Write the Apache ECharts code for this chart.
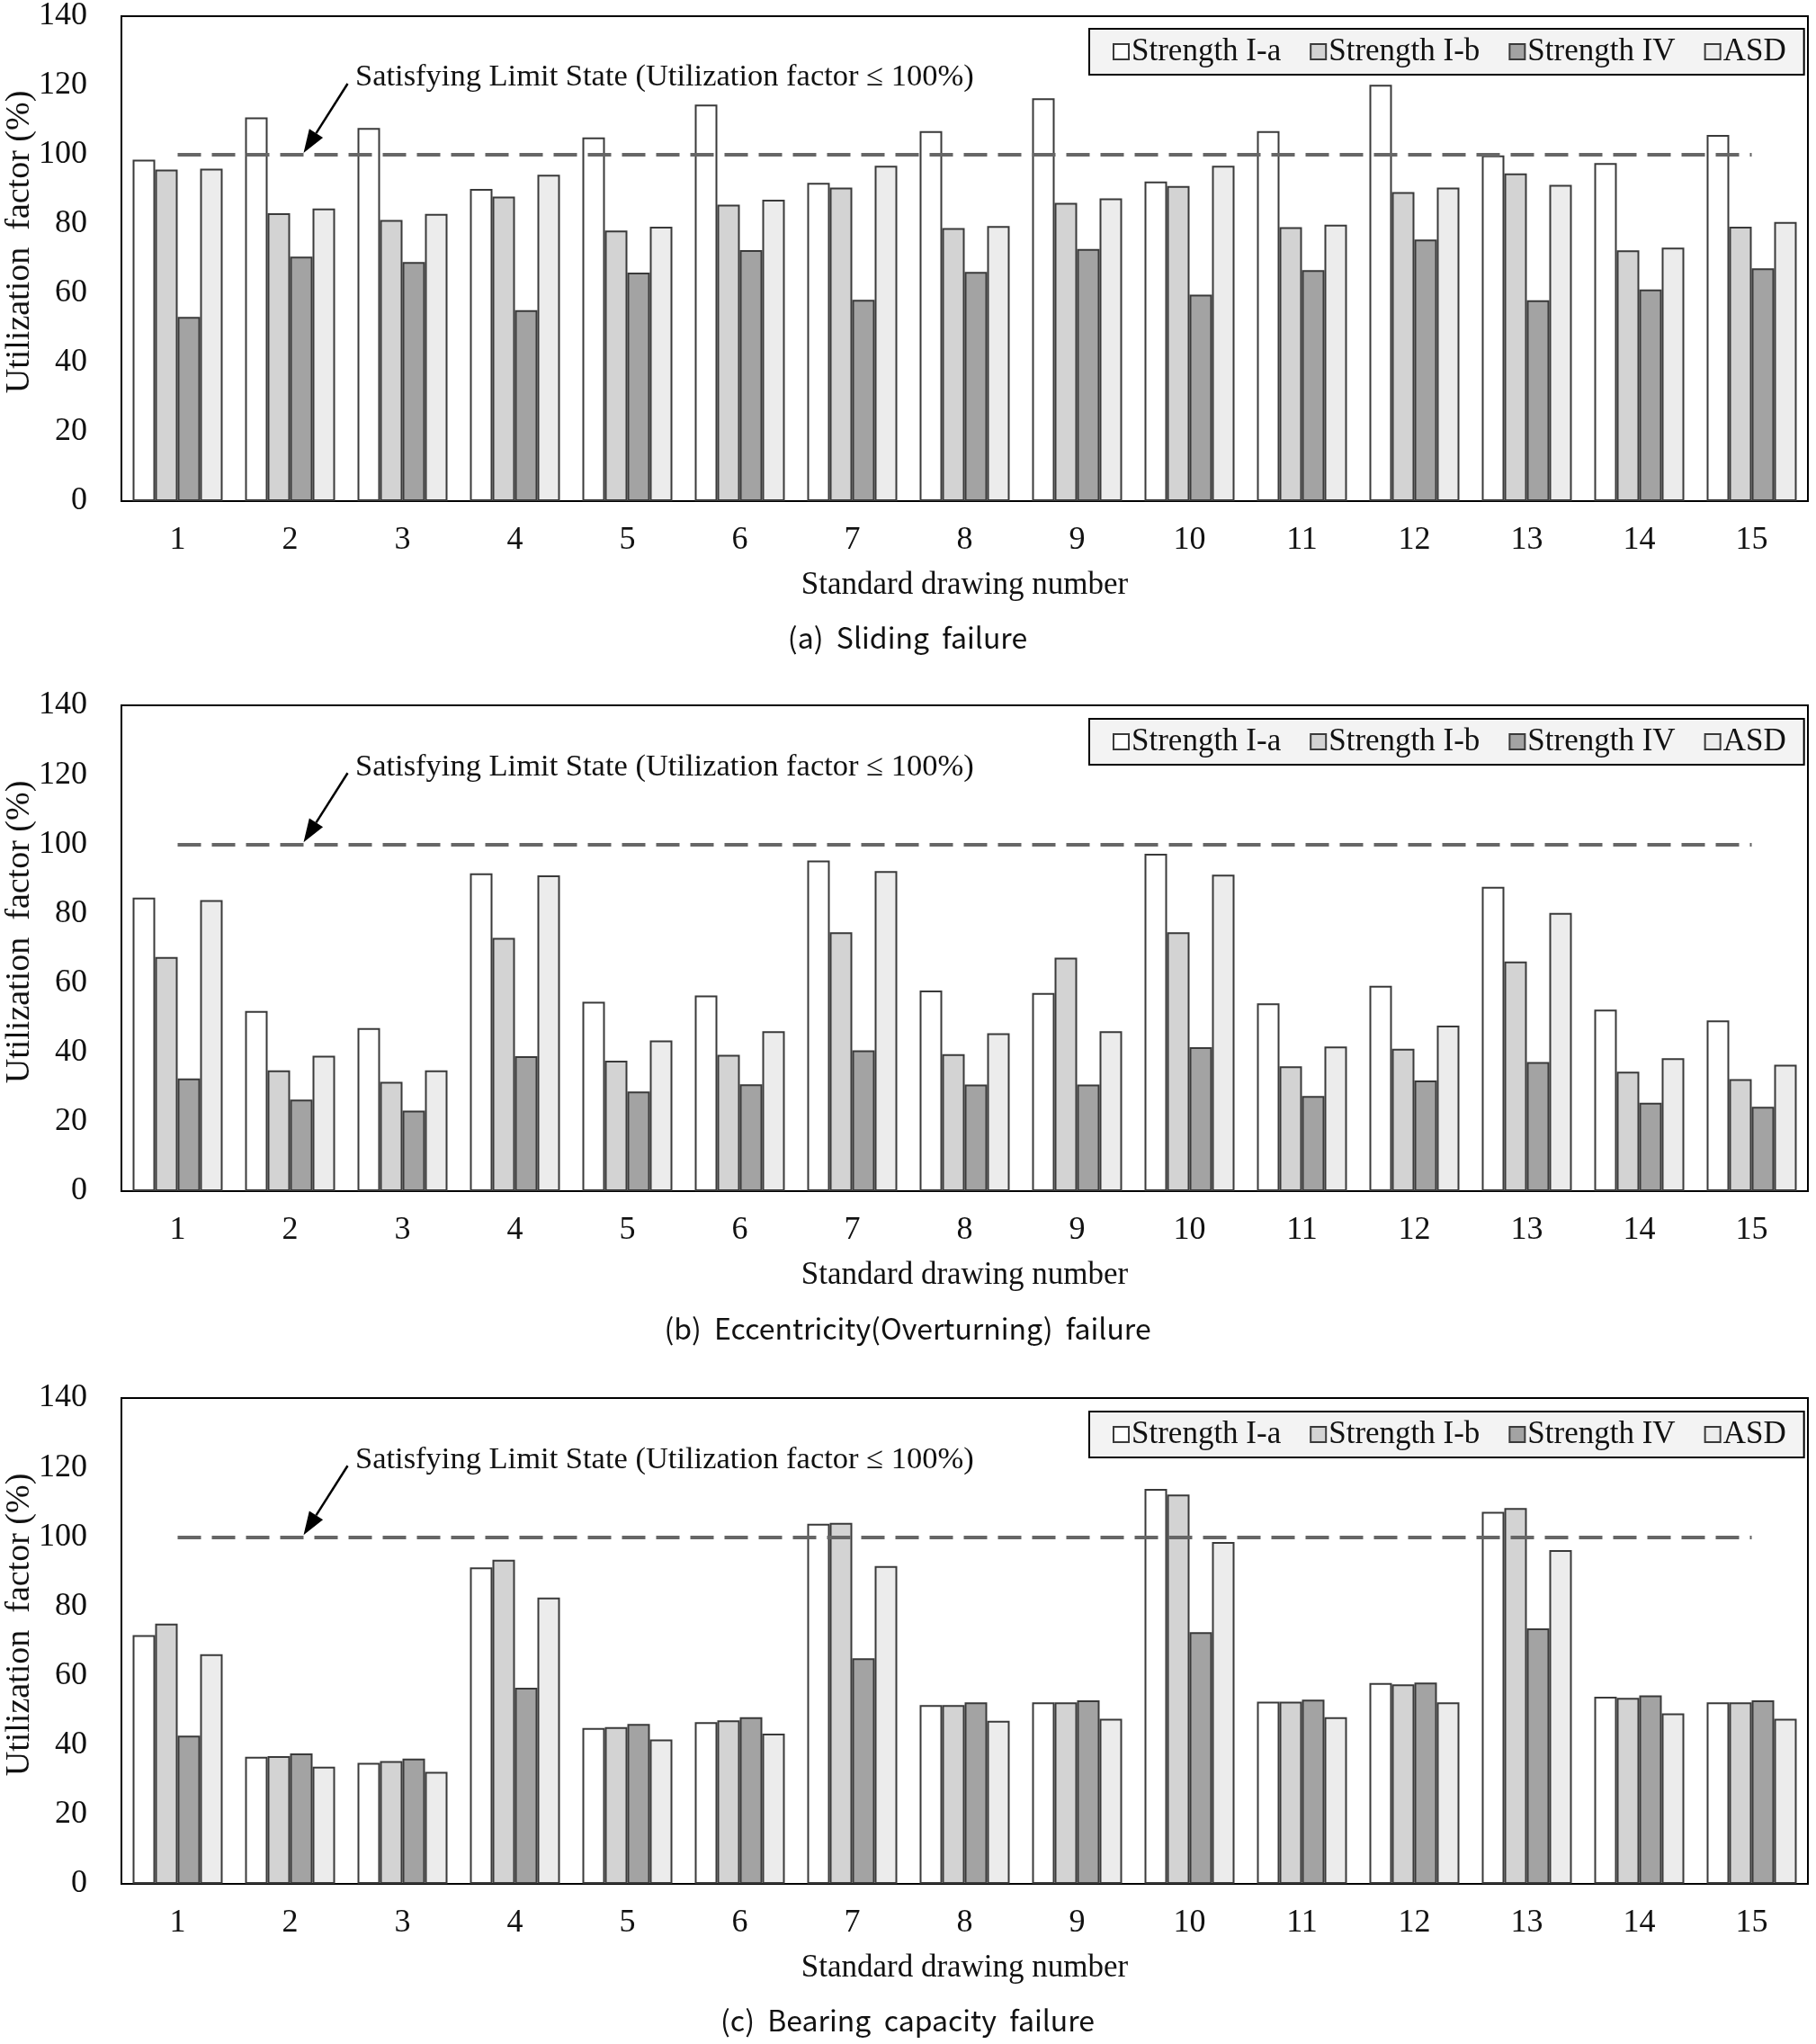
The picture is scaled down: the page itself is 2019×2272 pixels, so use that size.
<!DOCTYPE html>
<html>
<head>
<meta charset="utf-8">
<script src="https://cdn.jsdelivr.net/npm/echarts@6/dist/echarts.min.js"></script>
<style>
html,body{margin:0;padding:0;background:#fff;}
#chart{width:2019px;height:2272px;}
</style>
</head>
<body>
<div id="chart"></div>
<script>
const categories = ['1','2','3','4','5','6','7','8','9','10','11','12','13','14','15'];
const seriesNames = ['Strength I-a','Strength I-b','Strength IV','ASD'];
const yTicks = [0,20,40,60,80,100,120,140];
const limitValue = 100;

// (a) Sliding failure
const slidingIa  = [98.6,110.8,107.7,90.1,105.0,114.5,91.9,106.8,116.3,92.3,106.8,120.2,99.8,97.6,105.7];
const slidingIb  = [95.7,83.1,81.2,87.9,78.1,85.6,90.5,78.8,86.1,91.0,79.1,89.2,94.6,72.4,79.2];
const slidingIV  = [53.2,70.6,69.0,55.1,66.0,72.5,58.1,66.2,72.8,59.6,66.7,75.5,58.0,61.1,67.2];
const slidingASD = [96.0,84.5,82.9,94.2,79.2,87.0,96.8,79.4,87.4,96.8,79.8,90.5,91.3,73.2,80.6];

// (b) Eccentricity (Overturning) failure
const eccIa  = [84.6,51.9,47.0,91.6,54.6,56.4,95.3,57.8,57.1,97.2,54.1,59.2,87.7,52.3,49.2];
const eccIb  = [67.5,34.8,31.5,73.0,37.6,39.3,74.6,39.5,67.3,74.6,36.0,41.0,66.2,34.4,32.3];
const eccIV  = [32.5,26.4,23.2,38.9,28.7,30.8,40.6,30.7,30.7,41.5,27.4,31.9,37.2,25.5,24.3];
const eccASD = [83.9,39.0,34.8,91.0,43.4,46.1,92.2,45.5,46.1,91.2,41.7,47.7,80.2,38.3,36.4];

// (c) Bearing capacity failure
const bearIa  = [71.7,36.6,34.9,91.2,44.9,46.6,103.8,51.5,52.3,113.8,52.5,57.9,107.2,53.9,52.3];
const bearIb  = [75.0,36.8,35.4,93.4,45.2,47.1,104.0,51.5,52.3,112.2,52.5,57.5,108.3,53.6,52.3];
const bearIV  = [42.7,37.6,36.1,56.5,46.1,48.0,65.0,52.3,52.9,72.5,53.1,58.0,73.6,54.3,52.9];
const bearASD = [66.2,33.8,32.3,82.5,41.6,43.3,91.6,47.0,47.6,98.5,48.0,52.3,96.2,49.1,47.6];

const captions = ['(a)  Sliding  failure','(b)  Eccentricity(Overturning)  failure','(c)  Bearing  capacity  failure'];
const annotationText = 'Satisfying Limit State (Utilization factor \u2264 100%)';
const yTitle = 'Utilization  factor (%)';
const xTitle = 'Standard drawing number';

const panels = [
  [slidingIa, slidingIb, slidingIV, slidingASD],
  [eccIa, eccIb, eccIV, eccASD],
  [bearIa, bearIb, bearIV, bearASD]
];

const fills = ['#ffffff','#d3d3d3','#a3a3a3','#ececec'];
const SERIF = '"Liberation Serif","Times New Roman",serif';
const gridLeft = 135, gridWidth = 1875, gridHeight = 540;
const gridTops = [17, 784, 1554];
const captionY = [709, 1477, 2246];

const grids = [], xAxes = [], yAxes = [], series = [], legends = [], graphics = [];

gridTops.forEach((top, p) => {
  grids.push({left:gridLeft, top:top, width:gridWidth, height:gridHeight, show:true,
    borderColor:'#000', borderWidth:2, backgroundColor:'transparent', containLabel:false});
  xAxes.push({type:'category', gridIndex:p, data:categories,
    axisLine:{show:true, lineStyle:{color:'#000', width:2}},
    axisTick:{show:false},
    axisLabel:{color:'#111', fontFamily:SERIF, fontSize:36, margin:26},
    name:xTitle, nameLocation:'middle', nameGap:76,
    nameTextStyle:{color:'#111', fontFamily:SERIF, fontSize:35}
  });
  yAxes.push({type:'value', gridIndex:p, min:0, max:140, interval:20,
    axisLine:{show:true, lineStyle:{color:'#000', width:2}},
    axisTick:{show:false}, splitLine:{show:false},
    axisLabel:{color:'#111', fontFamily:SERIF, fontSize:36, margin:38}
  });
  seriesNames.forEach((nm, k) => {
    series.push({
      name:nm, type:'bar', xAxisIndex:p, yAxisIndex:p,
      data:panels[p][k],
      barGap:'0%', barCategoryGap:'20%',
      itemStyle:{color:fills[k], borderColor:'#3a3a3a', borderWidth:2},
      emphasis:{disabled:true}
    });
  });
  // limit line, centred on the category positions
  series.push({
    name:'limit', type:'line', xAxisIndex:p, yAxisIndex:p, data:[], silent:true,
    markLine:{
      silent:true, symbol:['none','none'], label:{show:false},
      lineStyle:{color:'#666', width:4, type:[26,12]},
      z:10,
      data:[[{xAxis:categories[0], yAxis:limitValue},{xAxis:categories[categories.length-1], yAxis:limitValue}]]
    }
  });
  legends.push({
    data:seriesNames, left:1211, top:top+15,
    orient:'horizontal', itemGap:32, itemWidth:17, itemHeight:17,
    padding:[8,20,8,26],
    backgroundColor:'#f3f3f3', borderColor:'#000', borderWidth:2,
    textStyle:{color:'#111', fontFamily:SERIF, fontSize:35, padding:[0,0,0,-2]},
    icon:'rect', selectedMode:false
  });
  graphics.push({type:'text', x:22, y:top+252, rotation:Math.PI/2,
    style:{text:yTitle, fontFamily:SERIF, fontSize:38, fill:'#111', align:'center', verticalAlign:'middle'}});
  graphics.push({type:'text', x:395, y:top+69,
    style:{text:annotationText, fontFamily:SERIF, fontSize:34.5, fill:'#111', align:'left', verticalAlign:'middle'}});
  graphics.push({type:'text', x:1009, y:captionY[p],
    style:{text:captions[p], fontFamily:'"Noto Sans CJK KR","Noto Sans",sans-serif', fontSize:32, fill:'#111', align:'center', verticalAlign:'middle'}});
});

const chart = echarts.init(document.getElementById('chart'), null, {renderer:'canvas'});
chart.setOption({
  animation:false,
  backgroundColor:'#fff',
  grid:grids, xAxis:xAxes, yAxis:yAxes, series:series, legend:legends,
  graphic:graphics
});

// arrows pointing to the limit line, positioned from the axis scales
const extra = [];
gridTops.forEach((top, p) => {
  const tip = chart.convertToPixel({xAxisIndex:p, yAxisIndex:p}, [categories[1], limitValue]);
  const tx = tip[0] + 15, ty = tip[1] - 2;
  const sx = tx + 49, sy = ty - 77;
  const ang = Math.atan2(ty - sy, tx - sx);
  const L = 26, W = 9;
  const bx = tx - L*Math.cos(ang), by = ty - L*Math.sin(ang);
  const px = -Math.sin(ang), py = Math.cos(ang);
  extra.push({type:'line', shape:{x1:sx, y1:sy, x2:bx, y2:by}, style:{stroke:'#000', lineWidth:2.5}, z:20});
  extra.push({type:'polygon', shape:{points:[[tx,ty],[bx+px*W,by+py*W],[bx-px*W,by-py*W]]}, style:{fill:'#000'}, z:20});
});
chart.setOption({graphic: graphics.concat(extra)});
</script>
</body>
</html>
